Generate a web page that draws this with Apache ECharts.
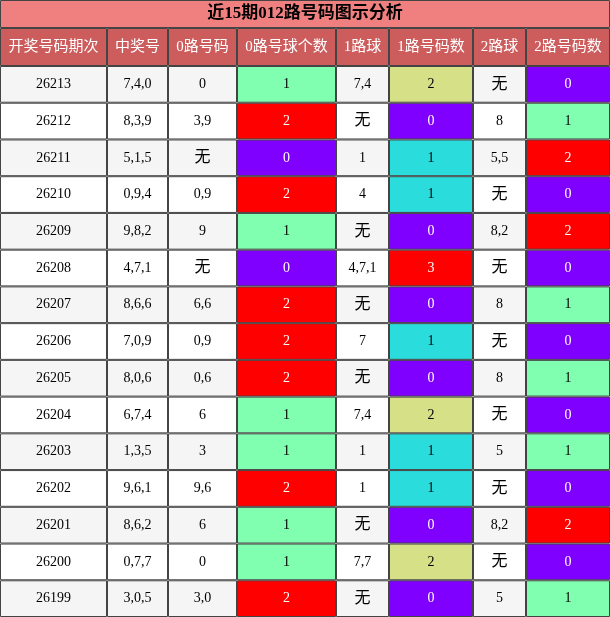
<!DOCTYPE html>
<html>
<head>
<meta charset="utf-8">
<script src="https://cdn.jsdelivr.net/npm/echarts@6/dist/echarts.min.js"></script>
<style>html,body{margin:0;padding:0;background:#fff}#c{width:610px;height:617px}</style>
</head>
<body>
<div id="c"></div>
<script>
// 表格数据
var title = '近15期012路号码图示分析';
var headers = ['开奖号码期次','中奖号','0路号码','0路号球个数','1路球','1路号码数','2路球','2路号码数'];
var periods = ['26213','26212','26211','26210','26209','26208','26207','26206','26205','26204','26203','26202','26201','26200','26199'];
var draws = ['7,4,0','8,3,9','5,1,5','0,9,4','9,8,2','4,7,1','8,6,6','7,0,9','8,0,6','6,7,4','1,3,5','9,6,1','8,6,2','0,7,7','3,0,5'];
var zeroBalls = ['0','3,9','无','0,9','9','无','6,6','0,9','0,6','6','3','9,6','6','0','3,0'];
var zeroCnt = [1,2,0,2,1,0,2,2,2,1,1,2,1,1,2];
var oneBalls = ['7,4','无','1','4','无','4,7,1','无','7','无','7,4','1','1','无','7,7','无'];
var oneCnt = [2,0,1,1,0,3,0,1,0,2,1,1,0,2,0];
var twoBalls = ['无','8','5,5','无','8,2','无','8','无','8','无','5','无','8,2','无','5'];
var twoCnt = [0,1,2,0,2,0,1,0,1,0,1,0,2,0,1];

// 版面
var colEdges = [0,107,168,237,336,389,473,526,610];
var titleH = 28, headH = 66, rowH = (617 - 66) / 15;
var cntColors = {0:'#8000ff',1:'#80ffb0',2:'#ff0000'};
var oneColors = {0:'#8000ff',1:'#2adcdc',2:'#d5e087',3:'#ff0000'};

var cells = [];
// title
cells.push({value:[0,0,8,titleH], text:title, fill:'#f08080', color:'#000', bold:true, size:17});
headers.forEach(function(h,i){
  cells.push({value:[colEdges[i],titleH,colEdges[i+1],headH], text:h, fill:'#cd5c5c', color:'#fff', size:15});
});
periods.forEach(function(p,r){
  var bg = r % 2 === 0 ? '#f5f5f5' : '#ffffff';
  var y0 = headH + r*rowH, y1 = y0 + rowH;
  var row = [
    [p,bg],[draws[r],bg],[zeroBalls[r],bg],
    [String(zeroCnt[r]),cntColors[zeroCnt[r]]],
    [oneBalls[r],bg],
    [String(oneCnt[r]),oneColors[oneCnt[r]]],
    [twoBalls[r],bg],
    [String(twoCnt[r]),cntColors[twoCnt[r]]]
  ];
  row.forEach(function(c,i){
    var dark = c[1]==='#8000ff' || c[1]==='#ff0000';
    var isWu = c[0]==='无';
    cells.push({value:[colEdges[i],y0,colEdges[i+1],y1], text:c[0], fill:c[1], color:dark?'#fff':'#000', size:isWu?16:14});
  });
});
cells[0].value[2] = 610;

var chart = echarts.init(document.getElementById('c'));
chart.setOption({
  animation:false,
  grid:{left:0,right:0,top:0,bottom:0},
  xAxis:{type:'value',min:0,max:610,show:false},
  yAxis:{type:'value',min:0,max:617,inverse:true,show:false},
  series:[{
    type:'custom',
    data:cells,
    renderItem:function(params, api){
      var d = cells[params.dataIndex];
      var p0 = api.coord([d.value[0],d.value[1]]);
      var p1 = api.coord([d.value[2],d.value[3]]);
      return {
        type:'rect',
        shape:{x:p0[0]+0.5,y:p0[1]+0.5,width:p1[0]-p0[0]-1,height:p1[1]-p0[1]-1},
        style:{fill:d.fill,stroke:'#444',lineWidth:1},
        textContent:{style:{text:d.text,fill:d.color,fontFamily:'Liberation Serif, Noto Sans CJK SC, serif',fontSize:d.size,fontWeight:d.bold?'bold':'normal'}},
        textConfig:{position:'inside'}
      };
    }
  }]
});
</script>
</body>
</html>
